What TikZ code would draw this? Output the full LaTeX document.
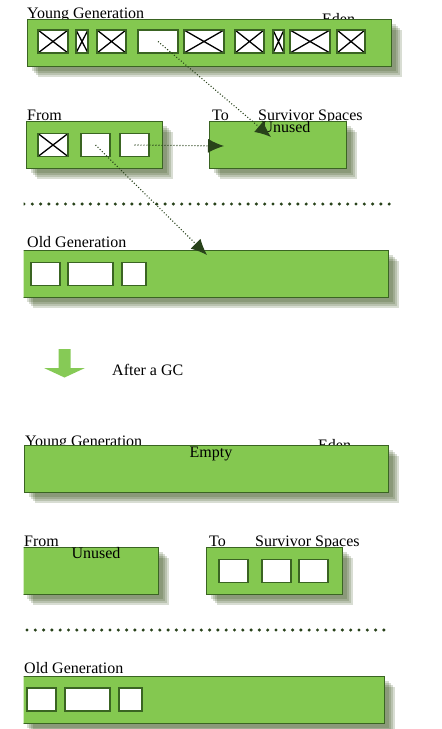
\documentclass[tikz,border=0pt]{standalone}
\usepackage{fontspec}
\setmainfont{Liberation Serif}
\usetikzlibrary{arrows.meta,positioning,shadows}
\definecolor{heapgreen}{RGB}{132,200,80}
\definecolor{edgegreen}{RGB}{58,100,34}
\definecolor{darkgreen}{RGB}{40,66,26}
\definecolor{shadowgreen}{RGB}{50,75,20}
\definecolor{arrowgreen}{RGB}{134,202,86}
\tikzset{
  haze/.style={general shadow={fill=shadowgreen, opacity=.19, shadow xshift=#1, shadow yshift=-#1}},
  region/.style={draw=edgegreen, line width=1.3pt, fill=heapgreen, anchor=north west,
    inner sep=0pt, minimum height=47pt, haze=10pt, haze=8pt, haze=6pt, haze=4pt},
  cell/.style={draw=edgegreen, line width=1.6pt, fill=white, inner sep=0pt, minimum height=23pt},
  crossed/.style={path picture={\draw[black, line width=1.3pt]
    (path picture bounding box.north west) -- (path picture bounding box.south east)
    (path picture bounding box.south west) -- (path picture bounding box.north east);}},
  lbl/.style={anchor=base west, inner sep=0pt, font=\fontsize{16}{18}\selectfont},
  mid/.style={anchor=base, inner sep=0pt, font=\fontsize{16}{18}\selectfont},
  sep/.style={darkgreen, line width=3.4pt, line cap=round, dash pattern=on 0pt off 8.3pt},
  move/.style={darkgreen, line width=1.1pt, dash pattern=on 1pt off 2pt,
    -{Latex[length=16pt, width=14pt, fill=darkgreen]}},
}
\begin{document}
\begin{tikzpicture}[x=1pt, y=-1pt]
\useasboundingbox (0,0) rectangle (442,729);
\clip (23.5,0) rectangle (442,729);
% before the collection
\node[lbl] (younglbl) at (27,18) {Young Generation};
\node[lbl] (edenlbl) at (322,24) {Eden};
\node[region, minimum width=364pt] (eden) at (27,19) {};
\foreach \a/\b/\c [count=\i] in {38/68/crossed, 76/88/crossed, 97/126/crossed, 138/178/, 184/224/crossed,
  235/264/crossed, 273/284/crossed, 290/330/crossed, 337/365/crossed}
  \node[cell, \c, minimum width={(\b-\a)*1pt}] (e\i) at ({(\a+\b)/2}, 41.5) {};

\node[lbl] (fromlbl) at (27,120) {From};
\node[lbl] (tolbl) at (212,120) {To};
\node[lbl] (survlbl) at (258,120) {Survivor Spaces};
\node[region, minimum width=136pt] (from) at (26,121) {};
\node[region, minimum width=137pt] (to) at (209,121) {};
\node[mid] (unused) at (286,132) {Unused};
\foreach \a/\b/\c [count=\i] in {38/68/crossed, 81/110/, 120/149/}
  \node[cell, \c, minimum width={(\b-\a)*1pt}] (f\i) at ({(\a+\b)/2}, 145) {};

\draw[sep] (24,204) -- (392,204);

\node[lbl] (oldlbl) at (27,247) {Old Generation};
\node[region, minimum width=366pt] (old) at (22,250) {};
\foreach \a/\b [count=\i] in {31/60, 68/113, 122/146}
  \node[cell, minimum width={(\b-\a)*1pt}] (o\i) at ({(\a+\b)/2}, 274) {};

% survivors move on
\coordinate (tohit) at (271,137);
\coordinate (tofront) at (224,146);
\coordinate (oldhit) at (207,255);
\draw[move] (e4.center) -- (tohit);
\draw[move] (f3.center) -- (tofront);
\draw[move] (f2.center) -- (oldhit);

% after the collection
\fill[arrowgreen] (58.5,349) -- (70.5,349) -- (70.5,368) -- (85,368) -- (64.5,377.5) -- (44,368) -- (58.5,368) -- cycle;
\node[lbl] (gclbl) at (112,375) {After a GC};

\node[lbl] (younglbl2) at (25,446) {Young Generation};
\node[lbl] (edenlbl2) at (318,450) {Eden};
\node[region, minimum width=364pt] (eden2) at (24,445) {};
\node[mid] (empty) at (211,457) {Empty};

\node[lbl] (fromlbl2) at (24,546) {From};
\node[lbl] (tolbl2) at (209,546) {To};
\node[lbl] (survlbl2) at (255,546) {Survivor Spaces};
\node[region, minimum width=136pt] (from2) at (22,547) {};
\node[region, minimum width=136pt] (to2) at (206,547) {};
\node[mid] (unused2) at (96,558) {Unused};
\foreach \a/\b [count=\i] in {219/248, 262/291, 299/328}
  \node[cell, minimum width={(\b-\a)*1pt}] (t\i) at ({(\a+\b)/2}, 571) {};

\draw[sep] (27,630) -- (388,630);

\node[lbl] (oldlbl2) at (24,673) {Old Generation};
\node[region, minimum width=362pt] (old2) at (22,676) {};
\foreach \a/\b [count=\i] in {27/56, 65/110, 119/142}
  \node[cell, minimum width={(\b-\a)*1pt}] (p\i) at ({(\a+\b)/2}, 699.5) {};
\end{tikzpicture}
\end{document}
